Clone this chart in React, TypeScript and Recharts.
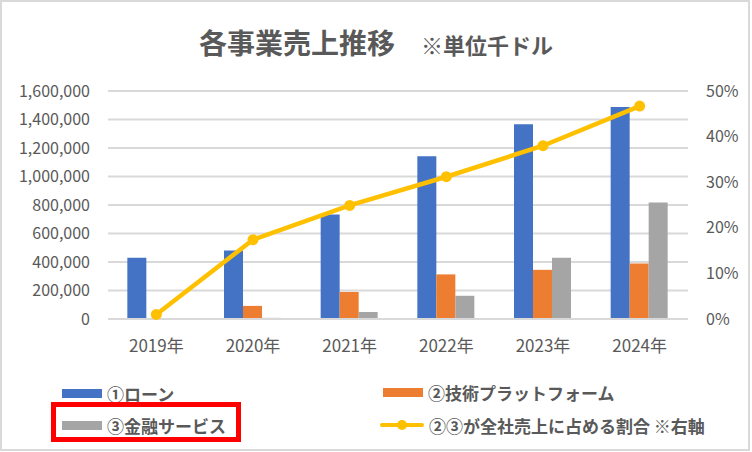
import { ComposedChart, Bar, Line, XAxis, YAxis, CartesianGrid } from "recharts";

const years = ["2019年", "2020年", "2021年", "2022年", "2023年", "2024年"];
const loan = [430000, 480000, 733000, 1142000, 1366000, 1487000];
const techPlatform = [0, 92000, 190000, 313000, 345000, 390000];
const financial = [0, 8000, 49000, 163000, 430000, 817000];
const shareOf23 = [0.01, 0.174, 0.249, 0.312, 0.38, 0.467];

const leftTicks = [0, 200000, 400000, 600000, 800000, 1000000, 1200000, 1400000, 1600000];
const rightTicks = [0, 0.1, 0.2, 0.3, 0.4, 0.5];

const BLUE = "#4472C4";
const ORANGE = "#ED7D31";
const GRAY = "#A5A5A5";
const YELLOW = "#FFC000";
const TEXT = "#595959";
const FONT = "'Noto Sans CJK JP', 'Noto Sans', sans-serif";

const rows = years.map((y, i) => ({
  year: y,
  loan: loan[i],
  tech: techPlatform[i],
  fin: financial[i],
  share: shareOf23[i],
}));

const yTick = { fill: TEXT, fontSize: 16, fontFamily: FONT };
const xTick = { fill: TEXT, fontSize: 17, fontFamily: FONT };

function Swatch({ color, line }: { color: string; line?: boolean }) {
  if (line) {
    return (
      <svg width={44} height={12} style={{ display: "block" }}>
        <line x1={2} y1={6} x2={42} y2={6} stroke={color} strokeWidth={4} strokeLinecap="round" />
        <circle cx={22} cy={6} r={5} fill={color} />
      </svg>
    );
  }
  return <div style={{ width: 40, height: 9, background: color }} />;
}

function LegendItem({ x, y, color, label, line }: { x: number; y: number; color: string; label: string; line?: boolean }) {
  return (
    <div
      style={{
        position: "absolute",
        left: x,
        top: y - 13,
        height: 26,
        display: "flex",
        alignItems: "center",
        gap: 5,
        fontSize: 17,
        fontWeight: 700,
        color: TEXT,
        fontFamily: FONT,
        whiteSpace: "nowrap",
      }}
    >
      <Swatch color={color} line={line} />
      <span>{label}</span>
    </div>
  );
}

export default function App() {
  return (
    <div style={{ position: "fixed", left: 0, top: 0, width: 752, height: 452, background: "#fff" }}>
      <div
        style={{
          position: "absolute",
          left: 0,
          top: 0,
          width: 750,
          height: 451,
          border: "2px solid #D9D9D9",
          boxSizing: "border-box",
        }}
      />
      <div
        style={{
          position: "absolute",
          left: 0,
          top: 22,
          width: 752,
          textAlign: "center",
          color: TEXT,
          fontFamily: FONT,
          fontWeight: 700,
          whiteSpace: "nowrap",
        }}
      >
        <span style={{ fontSize: 28 }}>各事業売上推移</span>
        <span style={{ fontSize: 22, marginLeft: 26 }}>※単位千ドル</span>
      </div>
      <ComposedChart
        width={752}
        height={452}
        data={rows}
        margin={{ top: 91, right: 0, bottom: 103, left: 0 }}
        barCategoryGap="20%"
        barGap={0}
        style={{ position: "absolute", left: 0, top: 0 }}
      >
        <CartesianGrid yAxisId="left" vertical={false} stroke="#D9D9D9" strokeWidth={2} />
        <XAxis
          dataKey="year"
          height={30}
          axisLine={{ stroke: "#D9D9D9", strokeWidth: 2 }}
          tickLine={false}
          tickSize={0}
          tickMargin={21}
          tick={xTick}
        />
        <YAxis
          yAxisId="left"
          width={108}
          domain={[0, 1600000]}
          ticks={leftTicks}
          axisLine={false}
          tickLine={false}
          tickSize={0}
          tickMargin={18}
          tick={yTick}
          tickFormatter={(v: number) => v.toLocaleString("en-US")}
        />
        <YAxis
          yAxisId="right"
          orientation="right"
          width={64}
          domain={[0, 0.5]}
          ticks={rightTicks}
          axisLine={false}
          tickLine={false}
          tickSize={0}
          tickMargin={18}
          tick={yTick}
          tickFormatter={(v: number) => `${Math.round(v * 100)}%`}
        />
        <Bar yAxisId="left" dataKey="loan" fill={BLUE} isAnimationActive={false} />
        <Bar yAxisId="left" dataKey="tech" fill={ORANGE} isAnimationActive={false} />
        <Bar yAxisId="left" dataKey="fin" fill={GRAY} isAnimationActive={false} />
        <Line
          yAxisId="right"
          dataKey="share"
          stroke={YELLOW}
          strokeWidth={4.5}
          dot={{ r: 5.5, fill: YELLOW, stroke: YELLOW, strokeWidth: 0 }}
          isAnimationActive={false}
        />
      </ComposedChart>
      <LegendItem x={62} y={393} color={BLUE} label="①ローン" />
      <LegendItem x={383} y={392} color={ORANGE} label="②技術プラットフォーム" />
      <LegendItem x={62} y={425} color={GRAY} label="③金融サービス" />
      <LegendItem x={380} y={425} color={YELLOW} label="②③が全社売上に占める割合 ※右軸" line />
      <div
        style={{
          position: "absolute",
          left: 51,
          top: 402,
          width: 190,
          height: 40,
          border: "5px solid #FF0000",
          boxSizing: "border-box",
        }}
      />
    </div>
  );
}
